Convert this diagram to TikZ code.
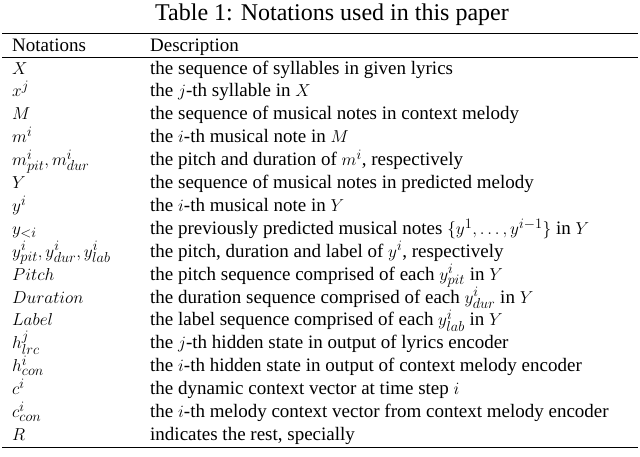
\documentclass[tikz,border=0pt]{standalone}
\usepackage{fontspec}
\setmainfont{Liberation Serif}
\begin{document}
\begin{tikzpicture}[x=1pt,y=-1pt,
  cell/.style={anchor=base west,inner sep=0pt,font=\fontsize{19}{21}\selectfont},
  rule/.style={line width=0.9pt}]
\useasboundingbox (0,0) rectangle (640,456);
\node[anchor=base,inner sep=0pt,font=\fontsize{24}{26}\selectfont] (title) at (332,20) {Table 1: Notations used in this paper};
\coordinate (r1a) at (2,33); \coordinate (r1b) at (638,33);
\draw[rule] (r1a) -- (r1b);
\node[cell] (h1) at (12,51) {Notations};
\node[cell] (h2) at (150,51) {Description};
\coordinate (r2a) at (2,57); \coordinate (r2b) at (638,57);
\draw[line width=0.5pt] (r2a) -- (r2b);
\foreach \i/\a/\b in {
 0/{$X$}/{the sequence of syllables in given lyrics},
 1/{$x^j$}/{the $j$-th syllable in $X$},
 2/{$M$}/{the sequence of musical notes in context melody},
 3/{$m^i$}/{the $i$-th musical note in $M$},
 4/{$m^i_{pit}, m^i_{dur}$}/{the pitch and duration of $m^i$, respectively},
 5/{$Y$}/{the sequence of musical notes in predicted melody},
 6/{$y^i$}/{the $i$-th musical note in $Y$},
 7/{$y_{<i}$}/{the previously predicted musical notes $\{y^1,\ldots,y^{i-1}\}$ in $Y$},
 8/{$y^i_{pit}, y^i_{dur}, y^i_{lab}$}/{the pitch, duration and label of $y^i$, respectively},
 9/{$Pitch$}/{the pitch sequence comprised of each $y^i_{pit}$ in $Y$},
 10/{$Duration$}/{the duration sequence comprised of each $y^i_{dur}$ in $Y$},
 11/{$Label$}/{the label sequence comprised of each $y^i_{lab}$ in $Y$},
 12/{$h^j_{lrc}$}/{the $j$-th hidden state in output of lyrics encoder},
 13/{$h^i_{con}$}/{the $i$-th hidden state in output of context melody encoder},
 14/{$c^i$}/{the dynamic context vector at time step $i$},
 15/{$c^i_{con}$}/{the $i$-th melody context vector from context melody encoder},
 16/{$R$}/{indicates the rest, specially}}
{
 \node[cell] (n\i) at (12,{74+\i*22.9}) {\a};
 \node[cell] (d\i) at (150,{74+\i*22.9}) {\b};
}
\coordinate (r3a) at (2,447); \coordinate (r3b) at (638,447);
\draw[rule] (r3a) -- (r3b);
\end{tikzpicture}
\end{document}
